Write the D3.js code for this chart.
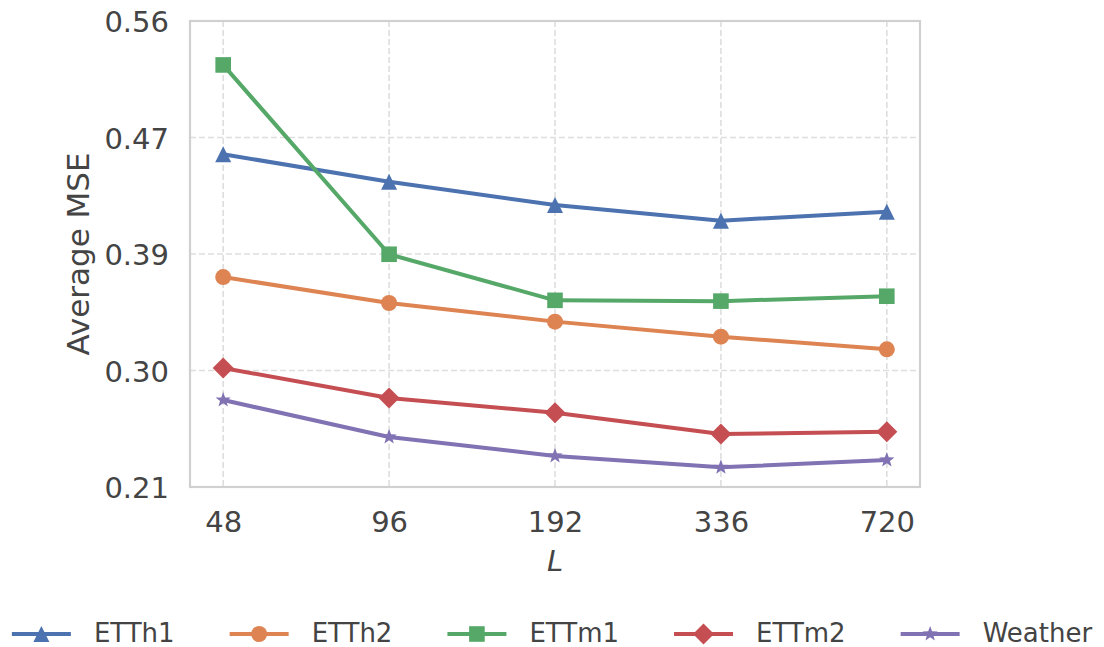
<!DOCTYPE html>
<html>
<head>
<meta charset="utf-8">
<script src="https://cdn.jsdelivr.net/npm/d3@7"></script>
<style>
  body { margin: 0; background: #fff; }
  text { font-family: "DejaVu Sans", sans-serif; fill: #444; }
</style>
</head>
<body>
<div id="chart"></div>
<script>
var lengths = ["48", "96", "192", "336", "720"];
var yTicks = [0.21, 0.2975, 0.385, 0.4725, 0.56];
var yTickLabels = ["0.21", "0.30", "0.39", "0.47", "0.56"];

var etth1 = [0.4599, 0.4393, 0.4218, 0.4100, 0.4168];
var etth2 = [0.3677, 0.3482, 0.3342, 0.3229, 0.3134];
var ettm1 = [0.5270, 0.3848, 0.3502, 0.3496, 0.3533];
var ettm2 = [0.2994, 0.2768, 0.2658, 0.2498, 0.2515];
var weather = [0.2753, 0.2476, 0.2333, 0.2248, 0.2303];

var seriesNames = ["ETTh1", "ETTh2", "ETTm1", "ETTm2", "Weather"];
var seriesValues = [etth1, etth2, ettm1, ettm2, weather];
var seriesColours = ["#4c72b0", "#dd8452", "#55a868", "#c44e52", "#8172b3"];
var seriesMarkers = ["triangle", "circle", "square", "diamond", "star"];

var W = 1104, H = 647;
var plot = { left: 190, right: 920, top: 21, bottom: 487 };

var svg = d3.select("#chart")
  .append("svg")
  .attr("width", W)
  .attr("height", H);

var xScale = d3.scalePoint()
  .domain(lengths)
  .range([plot.left, plot.right])
  .padding(0.2);

var yScale = d3.scaleLinear()
  .domain([0.21, 0.56])
  .range([plot.bottom, plot.top]);

// marker shapes, roughly like matplotlib's
function markerPath(shape) {
  var p = d3.path();
  if (shape == "triangle") {
    p.moveTo(0, -8); p.lineTo(8, 8); p.lineTo(-8, 8); p.closePath();
  } else if (shape == "circle") {
    p.arc(0, 0, 8, 0, 2 * Math.PI);
  } else if (shape == "square") {
    p.rect(-7.8, -7.8, 15.6, 15.6);
  } else if (shape == "diamond") {
    p.moveTo(0, -10.5); p.lineTo(10.5, 0); p.lineTo(0, 10.5); p.lineTo(-10.5, 0); p.closePath();
  } else if (shape == "star") {
    for (var i = 0; i < 10; i++) {
      var r = i % 2 == 0 ? 8 : 3.3;
      var a = -Math.PI / 2 + i * Math.PI / 5;
      if (i == 0) p.moveTo(r * Math.cos(a), r * Math.sin(a));
      else p.lineTo(r * Math.cos(a), r * Math.sin(a));
    }
    p.closePath();
  }
  return p.toString();
}

// grid
svg.append("g")
  .selectAll("line")
  .data(yTicks.slice(1, 4))
  .enter().append("line")
  .attr("x1", plot.left)
  .attr("x2", plot.right)
  .attr("y1", function(d) { return yScale(d) })
  .attr("y2", function(d) { return yScale(d) })
  .attr("stroke", "#dedede")
  .attr("stroke-width", 1.6)
  .attr("stroke-dasharray", "6,3");

svg.append("g")
  .selectAll("line")
  .data(lengths)
  .enter().append("line")
  .attr("x1", function(d) { return xScale(d) })
  .attr("x2", function(d) { return xScale(d) })
  .attr("y1", plot.top)
  .attr("y2", plot.bottom)
  .attr("stroke", "#dedede")
  .attr("stroke-width", 1.6)
  .attr("stroke-dasharray", "6,3");

// frame
svg.append("rect")
  .attr("x", plot.left)
  .attr("y", plot.top)
  .attr("width", plot.right - plot.left)
  .attr("height", plot.bottom - plot.top)
  .attr("fill", "none")
  .attr("stroke", "#d0d0d0")
  .attr("stroke-width", 2.2);

// axes (ticks hidden, labels only)
var xAxis = d3.axisBottom(xScale).tickSize(0).tickPadding(0);
var gx = svg.append("g")
  .attr("transform", "translate(0," + plot.bottom + ")")
  .call(xAxis);
gx.select(".domain").remove();
gx.selectAll("text")
  .attr("font-size", "29px")
  .attr("font-family", "DejaVu Sans")
  .attr("fill", "#444")
  .attr("dy", null)
  .attr("y", 45);

var yAxis = d3.axisLeft(yScale)
  .tickValues(yTicks)
  .tickFormat(function(d, i) { return yTickLabels[i] })
  .tickSize(0)
  .tickPadding(0);
var gy = svg.append("g")
  .attr("transform", "translate(" + plot.left + ",0)")
  .call(yAxis);
gy.select(".domain").remove();
gy.selectAll("text")
  .attr("font-size", "29px")
  .attr("font-family", "DejaVu Sans")
  .attr("fill", "#444")
  .attr("dy", null)
  .attr("y", 10.5)
  .attr("x", -21);

svg.append("text")
  .attr("transform", "translate(89," + ((plot.top + plot.bottom) / 2) + ") rotate(-90)")
  .attr("text-anchor", "middle")
  .attr("font-size", "31px")
  .text("Average MSE");

svg.append("text")
  .attr("x", (plot.left + plot.right) / 2)
  .attr("y", 571)
  .attr("text-anchor", "middle")
  .attr("font-size", "29px")
  .attr("font-style", "italic")
  .text("L");

// series
var line = d3.line()
  .x(function(d, i) { return xScale(lengths[i]) })
  .y(function(d) { return yScale(d) });

seriesValues.forEach(function(vals, k) {
  var g = svg.append("g");
  g.append("path")
    .datum(vals)
    .attr("d", line)
    .attr("fill", "none")
    .attr("stroke", seriesColours[k])
    .attr("stroke-width", 4)
    .attr("stroke-linejoin", "round");
  g.selectAll("path.marker")
    .data(vals)
    .enter().append("path")
    .attr("class", "marker")
    .attr("d", markerPath(seriesMarkers[k]))
    .attr("transform", function(d, i) {
      return "translate(" + xScale(lengths[i]) + "," + yScale(d) + ")";
    })
    .attr("fill", seriesColours[k]);
});

// legend, centred under the chart
var legend = svg.append("g");
var lineLen = 59, textOff = 82, colGap = 55;
var xPos = 0;
seriesNames.forEach(function(name, k) {
  var item = legend.append("g");
  item.append("line")
    .attr("x1", 0).attr("x2", lineLen)
    .attr("y1", 0).attr("y2", 0)
    .attr("stroke", seriesColours[k])
    .attr("stroke-width", 4);
  item.append("path")
    .attr("d", markerPath(seriesMarkers[k]))
    .attr("transform", "translate(" + (lineLen / 2) + ",0)")
    .attr("fill", seriesColours[k]);
  var t = item.append("text")
    .attr("x", textOff)
    .attr("y", 8)
    .attr("font-size", "26px")
    .text(name);
  item.attr("transform", "translate(" + xPos + ",0)");
  xPos += textOff + t.node().getComputedTextLength() + colGap;
});
var totalW = xPos - colGap;
legend.attr("transform", "translate(" + (W / 2 - totalW / 2) + ",634)");
</script>
</body>
</html>
